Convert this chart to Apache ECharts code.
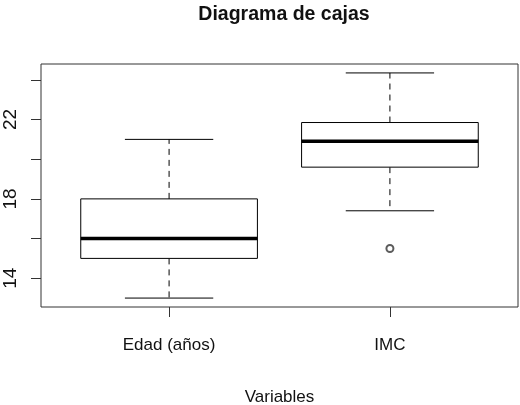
<!DOCTYPE html>
<html>
<head>
<meta charset="utf-8">
<script src="https://cdn.jsdelivr.net/npm/echarts@6/dist/echarts.min.js"></script>
<style>
  html, body { margin: 0; padding: 0; background: #fff; }
  #chart { width: 520px; height: 405px; }
</style>
</head>
<body>
<div id="chart"></div>
<script>
// Five-number summaries: [min whisker, Q1, median, Q3, max whisker]
const categories = ['Edad (años)', 'IMC'];
const edadStats = [13, 15, 16, 18, 21];
const imcStats = [17.4, 19.6, 20.9, 21.85, 24.35];
const imcOutliers = [15.5];
const yTickValues = [14, 16, 18, 20, 22, 24];
const yLabelValues = [14, 18, 22];

const FONT = "'Liberation Sans Narrow', 'Arial Narrow', 'Liberation Sans', Arial, sans-serif";
const INK = '#111';

// Box rows positioned at x = 1, 2 on a numeric axis
const boxData = [edadStats, imcStats].map((s, i) => [i + 1].concat(s));
const outlierData = imcOutliers.map(v => [2, v]);

function renderBox(params, api) {
  const x = api.value(0);
  const lo = api.value(1), q1 = api.value(2), med = api.value(3), q3 = api.value(4), hi = api.value(5);
  const halfBox = 0.4, halfCap = 0.2;
  const c = (a, b) => api.coord([a, b]);
  const line = (p1, p2, style) => ({
    type: 'line',
    shape: { x1: p1[0], y1: p1[1], x2: p2[0], y2: p2[1] },
    style: Object.assign({ stroke: '#000', lineWidth: 1 }, style || {})
  });
  const tl = c(x - halfBox, q3), br = c(x + halfBox, q1);
  return {
    type: 'group',
    children: [
      line(c(x, q3), c(x, hi), { lineDash: [6, 5] }),
      line(c(x, q1), c(x, lo), { lineDash: [6, 5] }),
      line(c(x - halfCap, hi), c(x + halfCap, hi)),
      line(c(x - halfCap, lo), c(x + halfCap, lo)),
      {
        type: 'rect',
        shape: { x: tl[0], y: tl[1], width: br[0] - tl[0], height: br[1] - tl[1] },
        style: { fill: '#fff', stroke: '#000', lineWidth: 1 }
      },
      line(c(x - halfBox, med), c(x + halfBox, med), { lineWidth: 3.5 })
    ]
  };
}

const chart = echarts.init(document.getElementById('chart'), null, { renderer: 'canvas' });
chart.setOption({
  animation: false,
  backgroundColor: '#fff',
  title: {
    text: 'Diagrama de cajas',
    left: 279,
    top: 0,
    textAlign: 'center',
    textStyle: { fontFamily: FONT, fontSize: 19.5, fontWeight: 'bold', color: INK }
  },
  grid: {
    left: 41, right: 2, top: 64, bottom: 98,
    outerBoundsMode: 'none',
    containLabel: false,
    show: true, borderColor: '#333', borderWidth: 1, backgroundColor: 'transparent'
  },
  xAxis: {
    type: 'value',
    min: 0.42,
    max: 2.58,
    name: 'Variables',
    nameLocation: 'middle',
    nameGap: 82,
    nameTextStyle: { fontFamily: FONT, fontSize: 17, color: INK, verticalAlign: 'top' },
    splitLine: { show: false },
    axisLine: { show: false },
    axisTick: { show: true, length: 10, customValues: [1, 2], lineStyle: { color: '#333' } },
    axisLabel: {
      customValues: [1, 2],
      margin: 30,
      fontFamily: FONT, fontSize: 17, color: INK,
      formatter: v => categories[Math.round(v) - 1]
    }
  },
  yAxis: {
    type: 'value',
    min: 12.55,
    max: 24.8,
    splitLine: { show: false },
    axisLine: { show: false },
    axisTick: { show: true, length: 10, customValues: yTickValues, lineStyle: { color: '#333' } },
    axisLabel: {
      customValues: yLabelValues,
      rotate: 90,
      margin: 21,
      fontFamily: FONT, fontSize: 19, color: INK
    }
  },
  series: [
    {
      type: 'custom',
      renderItem: renderBox,
      encode: { x: 0, y: [1, 2, 3, 4, 5] },
      data: boxData,
      silent: true
    },
    {
      type: 'scatter',
      data: outlierData,
      symbol: 'emptyCircle',
      symbolSize: 7,
      itemStyle: { color: '#333', borderColor: '#333', borderWidth: 0.7 },
      silent: true
    }
  ]
});
</script>
</body>
</html>
